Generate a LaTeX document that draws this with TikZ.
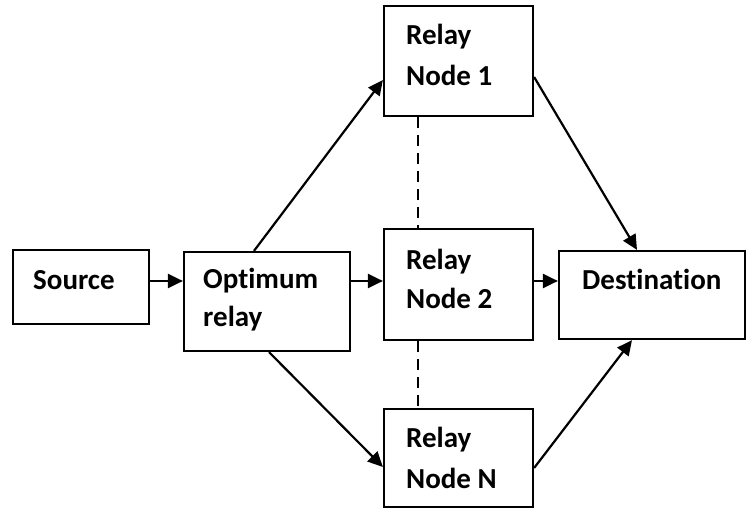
\documentclass[tikz,border=0pt]{standalone}
\usepackage{fontspec}
\setmainfont{Carlito}[Ligatures=NoCommon]
\usetikzlibrary{arrows.meta,calc}
\begin{document}
\begin{tikzpicture}[x=1pt,y=-1pt,
  box/.style={draw,line width=2.2pt,rectangle,inner sep=0pt},
  lbl/.style={anchor=base west,inner sep=0pt,font=\fontsize{29}{29}\selectfont\bfseries},
  arr/.style={line width=2.2pt,-{Triangle[length=15pt,width=14pt]}},
  dsh/.style={line width=1.5pt,dash pattern=on 11pt off 7pt}]
\useasboundingbox (0,0) rectangle (750,508);
\node[box,minimum width=136pt,minimum height=74pt] (src) at (81,287) {};
\node[box,minimum width=166pt,minimum height=99pt] (opt) at (267,301.5) {};
\node[box,minimum width=149pt,minimum height=110pt] (r1) at (458.5,61) {};
\node[box,minimum width=149pt,minimum height=111pt] (r2) at (458.5,284.5) {};
\node[box,minimum width=149pt,minimum height=98pt] (rn) at (458.5,458) {};
\node[box,minimum width=186pt,minimum height=88pt] (dst) at (652,295) {};
\node[lbl] (t1) at (33,289) {Source};
\node[lbl] (t2) at (203,288) {Optimum};
\node[lbl] (t3) at (203,326) {relay};
\node[lbl] (t4) at (406,45) {Relay};
\node[lbl] (t5) at (406,86) {Node 1};
\node[lbl] (t6) at (406,269) {Relay};
\node[lbl] (t7) at (406,308) {Node 2};
\node[lbl] (t8) at (406,447) {Relay};
\node[lbl] (t9) at (406,488) {Node N};
\node[lbl] (t10) at (582,289) {Destination};
\coordinate (h) at (0,281);
\draw[arr] (src.east |- h) -- (opt.west |- h);
\draw[arr] (opt.east |- h) -- (r2.west |- h);
\draw[arr] (r2.east |- h) -- (dst.west |- h);
\draw[arr] ([xshift=-13pt]opt.north) -- ([yshift=-19pt]r1.west);
\draw[arr] ([xshift=2pt]opt.south) -- ([yshift=-9pt]rn.west);
\draw[arr] ([yshift=-16pt]r1.east) -- ([xshift=-15pt]dst.north);
\draw[arr] ([yshift=-10pt]rn.east) -- ([xshift=-20pt]dst.south);
\draw[dsh] ([xshift=-40.5pt]r1.south) -- ([xshift=-40.5pt]r2.north);
\draw[dsh] ([xshift=-40.5pt]r2.south) -- ([xshift=-40.5pt]rn.north);
\end{tikzpicture}
\end{document}
